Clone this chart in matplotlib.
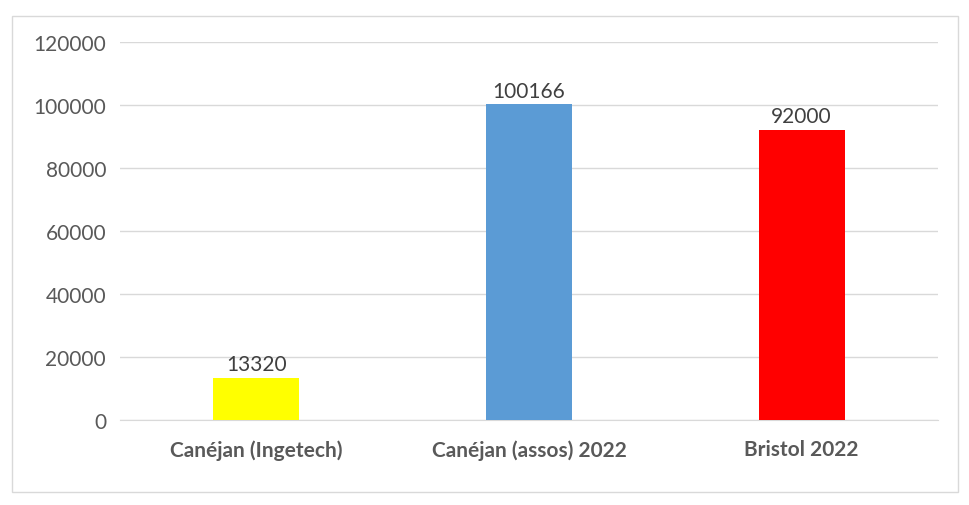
import matplotlib
matplotlib.use("Agg")
import matplotlib.pyplot as plt
from matplotlib.patches import Rectangle

categories = ["Canéjan (Ingetech)", "Canéjan (assos) 2022", "Bristol 2022"]
values = [13320, 100166, 92000]
colors = ["#FFFF00", "#5B9BD5", "#FF0000"]
yticks = [0, 20000, 40000, 60000, 80000, 100000, 120000]

plt.rcParams['font.family'] = ['Lato', 'DejaVu Sans']
fig = plt.figure(figsize=(9.7, 5.06), dpi=100)
fig.patches.append(Rectangle((12/970, 1-493/506), 946/970, 476/506, transform=fig.transFigure,
                             fill=False, edgecolor="#D9D9D9", linewidth=1))
ax = fig.add_axes([120/970, 1-421/506, 818/970, 378/506])
x = range(len(categories))
bars = ax.bar(x, values, width=0.316, color=colors, zorder=3)
for xi, v in zip(x, values):
    ax.text(xi, v + 1200, str(v), ha="center", va="bottom", fontsize=15, color="#404040")
ax.set_xlim(-0.5, 2.5)
ax.set_ylim(0, 120000)
ax.set_yticks(yticks)
ax.set_yticklabels([str(t) for t in yticks], fontsize=15, color="#595959")
ax.set_xticks(list(x))
ax.set_xticklabels(categories, fontsize=15, fontweight="bold", color="#595959")
ax.grid(axis="y", color="#D9D9D9", linewidth=1, zorder=0)
for s in ["top", "right", "left"]:
    ax.spines[s].set_visible(False)
ax.spines["bottom"].set_color("#D9D9D9")
ax.tick_params(length=0, pad=10)
ax.tick_params(axis="x", pad=14)
fig.savefig("out.png", dpi=100)
